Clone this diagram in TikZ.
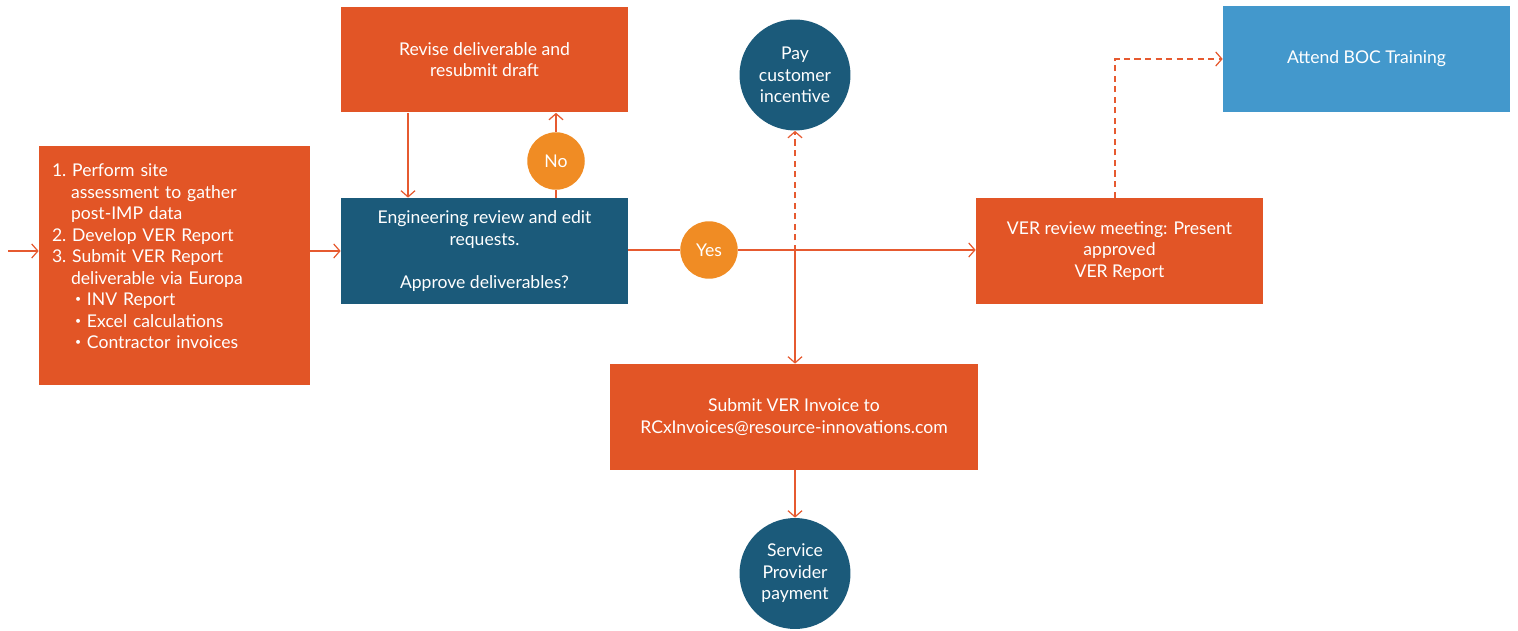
\documentclass[tikz,border=0pt]{standalone}
\usepackage{fontspec}
\setmainfont{Lato}
\usetikzlibrary{arrows.meta}
\definecolor{riorange}{HTML}{E25526}
\definecolor{ridark}{HTML}{1B5A7A}
\definecolor{riamber}{HTML}{F08C24}
\definecolor{rilight}{HTML}{4398CC}
\definecolor{riline}{HTML}{E65A30}
\newcommand{\smallbullet}{\raisebox{0.35ex}{\fontsize{6}{6}\selectfont\textbullet}}
\tikzstyle{task} = [rectangle, fill=riorange, text=white, minimum width=5.74cm, minimum height=2.12cm, align=center, inner sep=2pt, font=\fontsize{10}{12.25}\selectfont]
\tikzstyle{review} = [task, fill=ridark]
\tikzstyle{decide} = [circle, fill=riamber, text=white, minimum size=1.15cm, inner sep=0pt, font=\fontsize{10}{12.25}\selectfont]
\tikzstyle{pay} = [circle, fill=ridark, text=white, minimum size=2.22cm, inner sep=0pt, align=center, font=\fontsize{10}{12.25}\selectfont]
\tikzstyle{plain} = [draw=riline, line width=0.7pt]
\tikzstyle{flow} = [plain, -{Straight Barb[length=3.5pt, width=8pt]}]
\tikzstyle{maybe} = [flow, dash pattern=on 3.5pt off 2.5pt]

\begin{document}
\begin{tikzpicture}[x=0.02cm, y=-0.02cm]
    \useasboundingbox (0,0) rectangle (1518,631);
    \node (steps) [task, minimum width=5.42cm, minimum height=4.78cm, text width=4.9cm, inner xsep=0.26cm, align=left] at (174.5,265.5) {%
        1.\ Perform site\\
        \hspace*{0.38cm}assessment to gather\\
        \hspace*{0.38cm}post-IMP data\\
        2.\ Develop VER Report\\
        3.\ Submit VER Report\\
        \hspace*{0.38cm}deliverable via Europa\\
        \hspace*{0.46cm}\smallbullet\ INV Report\\
        \hspace*{0.46cm}\smallbullet\ Excel calculations\\
        \hspace*{0.46cm}\smallbullet\ Contractor invoices\\[-2pt]
        \mbox{}};
    \node (eng) [review] at (484.5,251) {Engineering review and edit\\requests.\\[12.25pt]Approve deliverables?};
    \node (revise) [task] at (484.5,59.5) {Revise deliverable and\\resubmit draft};
    \node (no) [decide] at (556,161) {No};
    \node (yes) [decide] at (709,250) {Yes};
    \node (pay) [pay] at (795,75) {Pay\\customer\\incentive};
    \node (submit) [task, minimum width=7.36cm] at (794,417) {Submit VER Invoice to\\RCxInvoices@resource-innovations.com};
    \node (service) [pay] at (795,573.5) {Service\\Provider\\payment};
    \node (ver) [task] at (1119.5,251) {VER review meeting: Present\\approved\\VER Report};
    \node (boc) [task, fill=rilight] at (1366.5,59) {Attend BOC Training};
    \coordinate (in) at (8,251);
    \coordinate (split) at (795,251);
    \draw [flow] (in) -- (in -| steps.west);
    \draw [flow] (steps.east |- eng) -- (eng.west);
    \draw [flow] ([xshift=-1.53cm]revise.south) -- ([xshift=-1.53cm]eng.north);
    \draw [plain] (eng.north -| no) -- (no);
    \draw [flow] (no) -- (no |- revise.south);
    \draw [plain] (eng.east |- yes) -- (yes);
    \draw [flow] (yes) -- (ver.west |- yes);
    \draw [maybe] (split) -- (pay);
    \draw [flow] (split) -- (submit.north -| split);
    \draw [flow] (submit.south -| service) -- (service);
    \draw [maybe] ([xshift=-0.09cm]ver.north) |- (boc.west);
\end{tikzpicture}
\end{document}
